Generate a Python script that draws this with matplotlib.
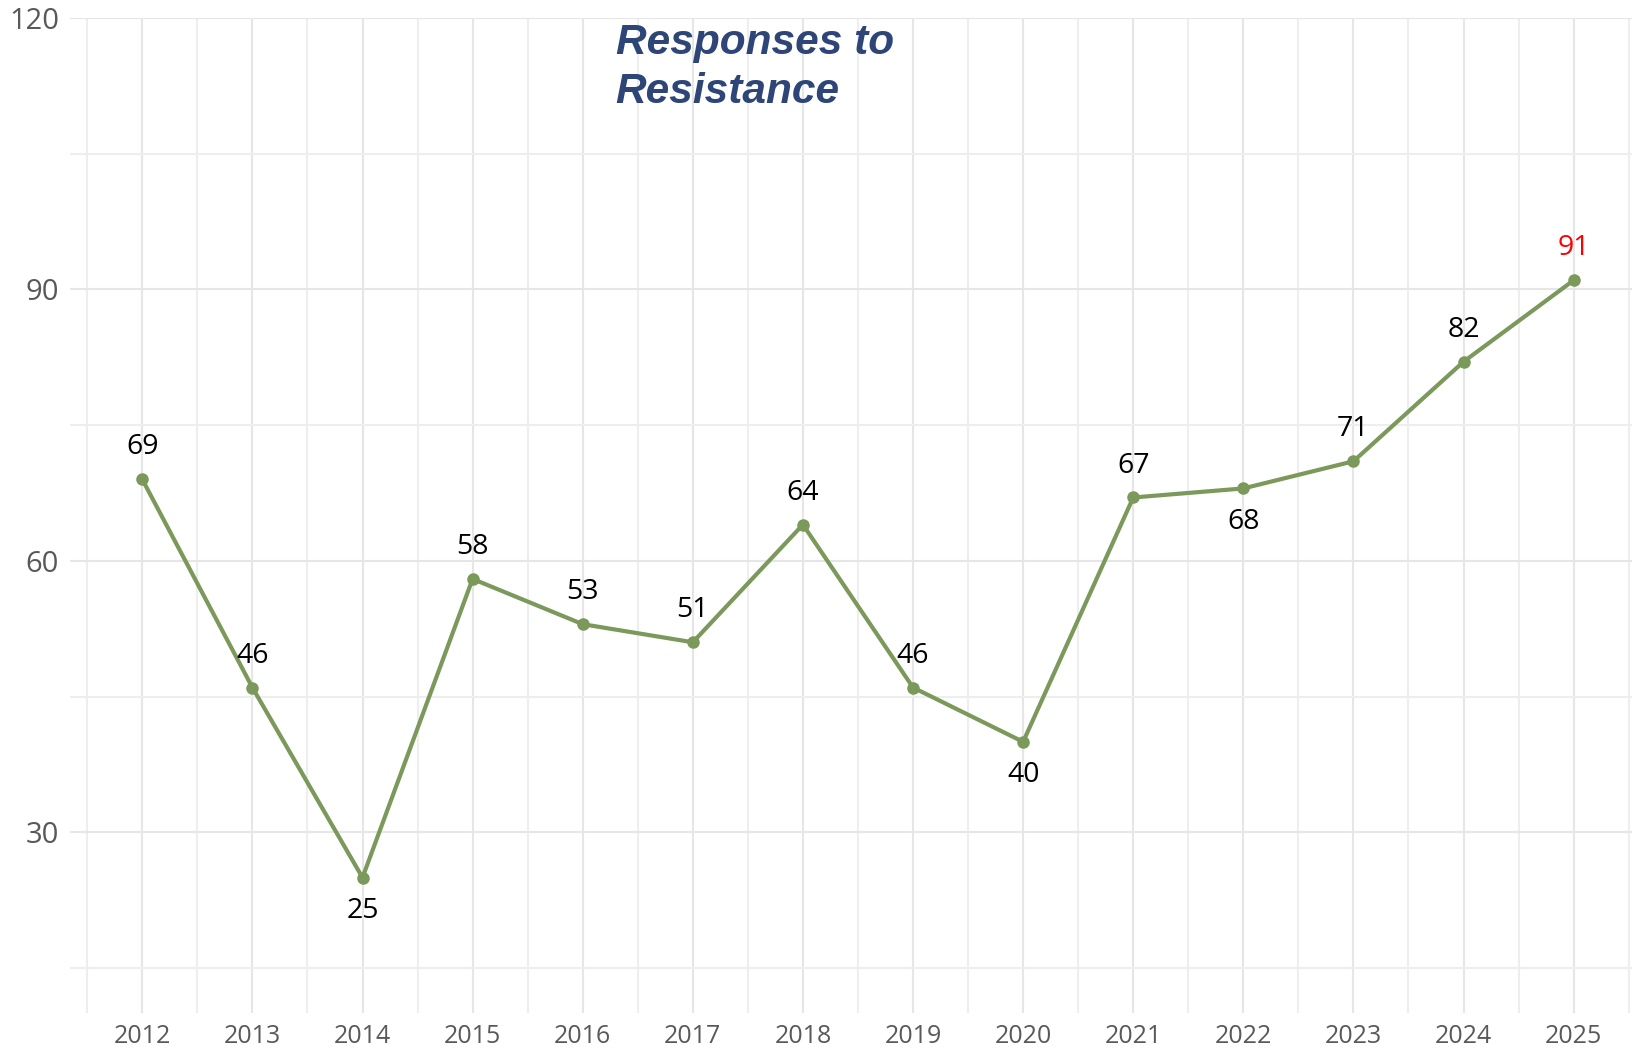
import matplotlib.pyplot as plt
from matplotlib.ticker import MultipleLocator

years = [2012, 2013, 2014, 2015, 2016, 2017, 2018, 2019, 2020, 2021, 2022, 2023, 2024, 2025]
responses = [69, 46, 25, 58, 53, 51, 64, 46, 40, 67, 68, 71, 82, 91]
# labels that sit under their point instead of above
below = [2014, 2020, 2022]
highlight_year = 2025

plt.rcParams['font.family'] = 'Open Sans'
plt.rcParams['xtick.labelsize'] = 18
plt.rcParams['ytick.labelsize'] = 21
plt.rcParams['xtick.color'] = '#595959'
plt.rcParams['ytick.color'] = '#595959'

fig = plt.figure(figsize=(16.32, 10.49), dpi=100)
ax = fig.add_axes([0.043, 0.034, 0.957, 0.949])

line_color = '#7B995A'
ax.plot(years, responses, color=line_color, lw=3, marker='o', ms=8,
        solid_joinstyle='round', zorder=3)

for x, y in zip(years, responses):
    dy = -24 if x in below else 23
    color = 'red' if x == highlight_year else 'black'
    ax.annotate(str(y), (x, y), xytext=(0, dy), textcoords='offset points',
                ha='center', va='center', fontsize=20.5, color=color, zorder=4)

ax.set_xlim(2011.345, 2025.53)
ax.set_ylim(10, 120)
ax.xaxis.set_major_locator(MultipleLocator(1))
ax.xaxis.set_minor_locator(MultipleLocator(0.5))
ax.yaxis.set_major_locator(MultipleLocator(30))
ax.yaxis.set_minor_locator(MultipleLocator(15))

ax.grid(which='major', color='#E6E6E6', lw=1.5)
ax.grid(which='minor', color='#EEEEEE', lw=1.5)
ax.set_axisbelow(True)

for s in ax.spines.values():
    s.set_visible(False)
ax.tick_params(which='both', length=0)
ax.tick_params(axis='x', pad=8)
ax.tick_params(axis='y', pad=8)

# title sits inside the plot area, just under the top gridline
ax.text(2016.3, 0.995, 'Responses to\nResistance', transform=ax.get_xaxis_transform(),
        ha='left', va='top', fontsize=30.5, fontweight='bold', style='italic',
        color='#2E4677', family='Liberation Sans', linespacing=1.3)

fig.savefig('out.png', dpi=100)
